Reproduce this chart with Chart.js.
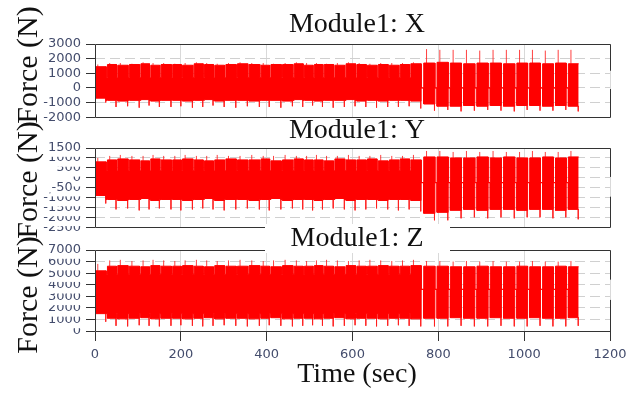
<!DOCTYPE html>
<html>
<head>
<meta charset="utf-8">
<script src="https://cdn.jsdelivr.net/npm/chart.js@4.4.0/dist/chart.umd.min.js"></script>
<style>
  body { margin: 0; background: #fff; }
  #wrap { position: relative; width: 644px; height: 398px; }
  canvas { position: absolute; left: 0; }
</style>
</head>
<body>
<div id="wrap">
  <canvas id="cX" width="644" height="130" style="top:0px"></canvas>
  <canvas id="cY" width="644" height="130" style="top:110px"></canvas>
  <canvas id="cZ" width="644" height="180" style="top:218px"></canvas>
</div>
<script>
// burst times (sec); the pattern changes at ~766 s
var burstStart = [0, 29, 53, 80, 107, 130, 154, 181, 204, 231, 255, 279, 305, 332, 359, 387, 410, 437, 464, 488,
  511, 534, 559, 585, 610, 635, 660, 686, 711, 736, 766, 797, 828, 859, 890, 921, 952, 983, 1013, 1043, 1073, 1103];
var burstEnd = [26, 50, 77, 104, 127, 151, 178, 201, 228, 252, 276, 302, 329, 356, 384, 407, 434, 461, 485, 508,
  531, 556, 582, 607, 632, 657, 683, 708, 733, 760, 792, 823, 854, 885, 916, 947, 978, 1008, 1038, 1068, 1098, 1127];
var part2From = 30; // first burst of the separated part

var timeTicks = [0, 200, 400, 600, 800, 1000, 1200];

// Module1: X
var xTicks = [-2000, -1000, 0, 1000, 2000, 3000];
var xTop = [1450, 1600, 1550, 1600, 1650, 1550, 1600, 1600, 1550, 1650, 1600, 1550, 1600, 1650, 1600, 1550, 1600, 1600, 1650, 1550,
  1600, 1600, 1550, 1650, 1600, 1550, 1600, 1550, 1600, 1650, 1700, 1750, 1700, 1650, 1700, 1700, 1650, 1700, 1700, 1650, 1700, 1650];
var xBottom = [-700, -850, -900, -850, -800, -900, -850, -850, -900, -850, -800, -900, -850, -850, -900, -850, -850, -900, -800, -850,
  -900, -850, -850, -800, -900, -850, -900, -850, -850, -900, -1100, -1250, -1250, -1200, -1250, -1200, -1250, -1200, -1200, -1250, -1200, -1250];
var xSpikeTop = [1600, 1700, 1700, 1650, 1750, 1700, 1700, 1650, 1700, 1750, 1700, 1650, 1700, 1750, 1700, 1700, 1650, 1700, 1750, 1700,
  1700, 1650, 1700, 1750, 1700, 1650, 1700, 1700, 1700, 1750, 2650, 2600, 2600, 2600, 2550, 2600, 2600, 2600, 2600, 2550, 2600, 2600];
var xSpikeBottom = [-1000, -1300, -1250, -1350, -1200, -1300, -1300, -1250, -1350, -1300, -1200, -1300, -1350, -1250, -1300, -1300, -1350, -1250, -1300, -1200,
  -1300, -1350, -1300, -1250, -1300, -1350, -1300, -1300, -1250, -1400, -1550, -1500, -1600, -1550, -1500, -1550, -1600, -1500, -1550, -1550, -1500, -1600];
var xNotch = [700, -850];
var xBase = 0;

// Module1: Y
var yTicks = [-2500, -2000, -1500, -1000, -500, 0, 500, 1000, 1500];
var yTop = [800, 900, 950, 900, 850, 950, 900, 900, 950, 900, 850, 900, 950, 900, 900, 950, 850, 900, 950, 900,
  900, 850, 950, 900, 900, 950, 850, 900, 950, 900, 1050, 1050, 1000, 1000, 1050, 1000, 1050, 1000, 1000, 1050, 1000, 1050];
var yBottom = [-900, -1100, -1150, -1100, -1050, -1150, -1100, -1100, -1150, -1100, -1050, -1150, -1100, -1100, -1150, -1100, -1050, -1150, -1100, -1100,
  -1150, -1100, -1050, -1150, -1100, -1100, -1150, -1100, -1100, -1150, -1800, -1750, -1650, -1600, -1650, -1600, -1600, -1650, -1600, -1600, -1650, -1600];
var ySpikeTop = [1000, 1100, 1150, 1100, 1100, 1150, 1100, 1100, 1150, 1100, 1100, 1150, 1100, 1100, 1150, 1100, 1100, 1150, 1100, 1100,
  1150, 1100, 1100, 1150, 1100, 1100, 1150, 1100, 1100, 1150, 1350, 1350, 1300, 1350, 1300, 1350, 1300, 1300, 1350, 1300, 1300, 1350];
var ySpikeBottom = [-1300, -1600, -1550, -1650, -1600, -1550, -1600, -1650, -1600, -1550, -1600, -1650, -1600, -1550, -1600, -1650, -1600, -1550, -1600, -1650,
  -1600, -1550, -1600, -1650, -1600, -1550, -1600, -1650, -1600, -1700, -2150, -2150, -2050, -2000, -2050, -2000, -2050, -2000, -2000, -2050, -2000, -2100];
var yNotch = [350, -1100];
var yBase = -250;

// Module1: Z
var zTicks = [0, 1000, 2000, 3000, 4000, 5000, 6000, 7000];
var zTop = [5200, 5600, 5650, 5600, 5550, 5650, 5600, 5600, 5650, 5600, 5550, 5650, 5600, 5600, 5650, 5600, 5550, 5650, 5600, 5600,
  5650, 5600, 5550, 5650, 5600, 5600, 5650, 5600, 5600, 5650, 5600, 5600, 5550, 5550, 5600, 5550, 5550, 5600, 5550, 5550, 5600, 5550];
var zBottom = [1500, 1100, 1050, 1100, 1150, 1050, 1100, 1100, 1050, 1100, 1150, 1050, 1100, 1100, 1050, 1100, 1150, 1050, 1100, 1100,
  1050, 1100, 1150, 1050, 1100, 1100, 1050, 1100, 1100, 1050, 1100, 1100, 1150, 1100, 1100, 1150, 1100, 1100, 1150, 1100, 1100, 1150];
var zSpikeTop = [5800, 6100, 6150, 6050, 6100, 6150, 6100, 6050, 6100, 6150, 6100, 6050, 6100, 6150, 6100, 6050, 6100, 6150, 6100, 6050,
  6100, 6150, 6100, 6050, 6100, 6150, 6100, 6050, 6100, 6150, 6050, 6050, 6000, 6050, 6000, 6050, 6000, 6000, 6050, 6000, 6000, 6050];
var zSpikeBottom = [800, 450, 400, 500, 450, 400, 450, 500, 450, 400, 450, 500, 450, 400, 450, 500, 450, 400, 450, 500,
  450, 400, 450, 500, 450, 400, 450, 500, 450, 400, 400, 400, 450, 400, 400, 450, 400, 400, 450, 400, 400, 450];
var zNotch = [4900, 1500];
var zBase = 3600;

var RED = '#ff0000';
var TICK_COLOR = '#434c6c';

// upper and lower envelope of the signal, step shaped around each burst
function envelope(top, bottom, notch, base) {
  var up = [], low = [];
  for (var i = 0; i < burstStart.length; i++) {
    up.push({x: burstStart[i], y: top[i]}, {x: burstEnd[i], y: top[i]});
    low.push({x: burstStart[i], y: bottom[i]}, {x: burstEnd[i], y: bottom[i]});
    if (i + 1 < burstStart.length) {
      var g = (i + 1 < part2From) ? notch : [base, base];
      up.push({x: burstEnd[i], y: g[0]}, {x: burstStart[i + 1], y: g[0]});
      low.push({x: burstEnd[i], y: g[1]}, {x: burstStart[i + 1], y: g[1]});
    }
  }
  return {up: up, low: low};
}

// single peaks sticking out of each burst
function spikes(top, bottom, sTop, sBot) {
  var pts = [];
  for (var i = 0; i < burstStart.length; i++) {
    var tu = burstStart[i] + (burstEnd[i] - burstStart[i]) * 0.25;
    pts.push({x: tu, y: top[i]}, {x: tu, y: sTop[i]}, {x: tu, y: null});
    var td = burstEnd[i] - 1;
    pts.push({x: td, y: bottom[i]}, {x: td, y: sBot[i]}, {x: td, y: null});
  }
  return pts;
}

var decor = {
  id: 'decor',
  afterDraw: function(chart, args, o) {
    var ctx = chart.ctx, a = chart.chartArea;
    ctx.save();
    // frame, right side has a gap in the middle
    ctx.strokeStyle = '#333';
    ctx.lineWidth = 1;
    ctx.beginPath();
    var L = Math.round(a.left) + 0.5, R = Math.round(a.right) + 0.5;
    var T = Math.round(a.top) + 0.5, B = Math.round(a.bottom) + 0.5;
    var h = B - T;
    ctx.moveTo(R, T + h * 0.36); ctx.lineTo(R, T); ctx.lineTo(L, T); ctx.lineTo(L, B); ctx.lineTo(R, B); ctx.lineTo(R, T + h * 0.61);
    ctx.stroke();
    // title with white box behind it
    if (o.box) {
      ctx.fillStyle = '#fff';
      ctx.fillRect(o.box[0], o.box[1], o.box[2], o.box[3]);
    }
    ctx.fillStyle = '#111';
    ctx.font = '28px "Liberation Serif"';
    ctx.textAlign = 'center';
    ctx.textBaseline = 'alphabetic';
    ctx.fillText(o.title, 357, o.titleY);
    // y axis title
    ctx.save();
    ctx.translate(29, o.forceY);
    ctx.rotate(-Math.PI / 2);
    ctx.font = '30px "Liberation Serif"';
    ctx.textBaseline = 'middle';
    ctx.fillText('Force (N)', 0, 0);
    ctx.restore();
    if (o.timeY) {
      ctx.fillText('Time (sec)', 357, o.timeY);
    }
    ctx.restore();
  }
};

function plain(v) { return String(v); }

function makePanel(id, top, bottom, sTop, sBot, notch, base, ticks, showTime, pad, deco) {
  var env = envelope(top, bottom, notch, base);
  return new Chart(document.getElementById(id), {
    type: 'line',
    data: {
      datasets: [
        {data: env.up, borderColor: RED, backgroundColor: RED, borderWidth: 1, fill: '+1', pointRadius: 0, tension: 0},
        {data: env.low, borderColor: RED, borderWidth: 1, fill: false, pointRadius: 0, tension: 0},
        {data: spikes(top, bottom, sTop, sBot), borderColor: 'rgba(255,30,30,0.85)', borderWidth: 1, fill: false, pointRadius: 0, spanGaps: false}
      ]
    },
    options: {
      responsive: false,
      animation: false,
      events: [],
      layout: {padding: {top: pad[0], bottom: pad[1], left: 0, right: 34}},
      plugins: {legend: {display: false}, tooltip: {enabled: false}, decor: deco},
      scales: {
        x: {
          type: 'linear', min: timeTicks[0], max: timeTicks[timeTicks.length - 1],
          afterBuildTicks: function(s) { s.ticks = timeTicks.map(function(v) { return {value: v}; }); },
          ticks: {display: showTime, autoSkip: false, maxRotation: 0, padding: 6, color: TICK_COLOR,
            font: {family: 'DejaVu Sans', size: 13}, callback: plain},
          grid: {color: '#d9d9d9', drawTicks: showTime, tickLength: 10, tickColor: '#333'},
          border: {display: false},
          afterFit: function(s) { s.height = showTime ? 67 : 0; }
        },
        y: {
          min: ticks[0], max: ticks[ticks.length - 1],
          afterBuildTicks: function(s) { s.ticks = ticks.map(function(v) { return {value: v}; }); },
          ticks: {autoSkip: false, padding: 5, color: TICK_COLOR, font: {family: 'DejaVu Sans', size: 13}, callback: plain,
            showLabelBackdrop: true, backdropColor: '#fff', backdropPadding: 1},
          grid: {color: '#d0d0d0', tickLength: 9, tickColor: '#333'},
          border: {display: false, dash: [10, 5]},
          afterFit: function(s) { s.width = 95; }
        }
      }
    },
    plugins: [decor]
  });
}

makePanel('cX', xTop, xBottom, xSpikeTop, xSpikeBottom, xNotch, xBase, xTicks, false, [44, 6],
  {title: 'Module1: X', titleY: 32, box: null, forceY: 65});
makePanel('cY', yTop, yBottom, ySpikeTop, ySpikeBottom, yNotch, yBase, yTicks, false, [38, 12],
  {title: 'Module1: Y', titleY: 28, box: [265, 8, 185, 27], forceY: 70});
makePanel('cZ', zTop, zBottom, zSpikeTop, zSpikeBottom, zNotch, zBase, zTicks, true, [32, 0],
  {title: 'Module1: Z', titleY: 28, box: [265, 6, 185, 29], forceY: 77, timeY: 164});
</script>
</body>
</html>
